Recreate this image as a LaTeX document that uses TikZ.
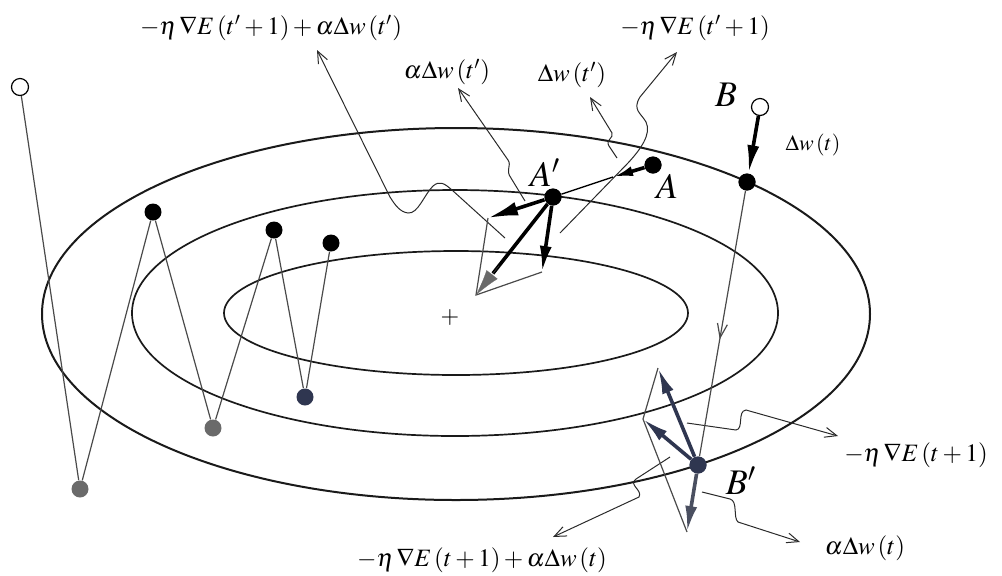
\documentclass[tikz,border=0pt]{standalone}
\usepackage{mathptmx}
\usetikzlibrary{arrows.meta,calc,decorations.markings}
\definecolor{ink}{HTML}{1A1A1A}
\definecolor{zig}{HTML}{4A4A4A}
\definecolor{greydot}{HTML}{6A6A6A}
\definecolor{navy}{HTML}{2F3650}
\definecolor{navylight}{HTML}{4A4F60}
\definecolor{ptrc}{HTML}{2A2A2A}
\begin{document}
\begin{tikzpicture}[x=0.5pt,y=-0.5pt,
  ell/.style={draw=ink,line width=0.85pt},
  zz/.style={draw=zig,line width=0.6pt},
  bdot/.style={circle,fill=black,minimum size=8.5pt,inner sep=0pt},
  gdot/.style={circle,fill=greydot,minimum size=8.5pt,inner sep=0pt},
  ddot/.style={circle,fill=navy,minimum size=8.5pt,inner sep=0pt},
  odot/.style={circle,draw=black,fill=white,line width=0.6pt,minimum size=8.5pt,inner sep=0pt},
  pointer/.style={draw=ptrc,line width=0.5pt,-{Straight Barb[length=6pt,width=5pt]}},
  fat/.style={line width=1.8pt,-{Latex[length=13pt,width=6pt]}},
  thinpar/.style={draw=zig,line width=0.6pt},
  lab/.style={font=\fontsize{12.5}{14}\selectfont,inner sep=0pt},
  smalllab/.style={font=\fontsize{11}{13}\selectfont,inner sep=0pt},
  biglab/.style={font=\fontsize{18}{20}\selectfont,inner sep=0pt}]
\useasboundingbox (0,0) rectangle (1002,575);
% contours
\draw[ell,line width=1pt] (456,314) ellipse [x radius=414, y radius=186];
\draw[ell] (455,313) ellipse [x radius=323, y radius=123];
\draw[ell] (456,313) ellipse [x radius=232, y radius=62];
\node[font=\fontsize{12}{12}\selectfont,inner sep=0pt] (ctr) at (450,317) {$+$};
% zigzag path
\node[odot] (S) at (20,87) {};
\node[gdot] (P1) at (80,489) {};
\node[bdot] (P2) at (153,212) {};
\node[gdot] (P3) at (213,428) {};
\node[bdot] (P4) at (274,230) {};
\node[ddot] (P5) at (305,397) {};
\node[bdot] (P6) at (331,243) {};
\draw[zz] (S) -- (P1) -- (P2) -- (P3) -- (P4) -- (P5) -- (P6);
% A region points
\node[bdot] (Ap) at (553,197) {};
\node[bdot] (A) at (653,165) {};
\coordinate (Aa) at (613,177);
\coordinate (m1) at (488,218);
\coordinate (g1) at (542,272);
\coordinate (s1) at (476,295);
% B region points
\node[odot] (B) at (760,107) {};
\node[bdot] (J) at (747,182) {};
\node[ddot] (Bp) at (698,465) {};
\coordinate (u1) at (658,368);
\coordinate (l1) at (643,419);
\coordinate (d1) at (687,532);
% labels
\node[lab] (L1) at (271,28) {$-\eta\,\nabla E\,(t'+1)+\alpha\Delta w\,(t')$};
\node[lab] (L2) at (447,72) {$\alpha\Delta w\,(t')$};
\node[lab] (L3) at (572,75) {$\Delta w\,(t')$};
\node[lab] (L4) at (695,28) {$-\eta\,\nabla E\,(t'+1)$};
\node[lab] (L5) at (916,455) {$-\eta\,\nabla E\,(t+1)$};
\node[lab] (L6) at (865,548) {$\alpha\Delta w\,(t)$};
\node[lab] (L7) at (482,560) {$-\eta\,\nabla E\,(t+1)+\alpha\Delta w\,(t)$};
\node[smalllab] (L8) at (813,145) {$\Delta w\,(t)$};
\node[biglab] (LAp) at (545,173) {$A'$};
\node[biglab] (LA) at (667,186) {$A$};
\node[biglab] (LB) at (726,95) {$B$};
\node[biglab] (LBp) at (741,481) {$B'$};
% pointer coordinates
\coordinate (t1) at (317,50);
\coordinate (t2) at (458,88);
\coordinate (t3) at (590,97);
\coordinate (t4) at (677,52);
\coordinate (t5) at (838,436);
\coordinate (t6) at (800,542);
\coordinate (t7) at (553,537);
% pointers
\draw[pointer] (505,238) -- (452,190) .. controls (445,184) and (440,180) .. (433,186)
  .. controls (424,195) and (418,214) .. (408,213) .. controls (400,212) and (395,205) .. (390,197) -- (t1);
\draw[pointer] (525,201) -- (511,178) .. controls (505,170) and (512,166) .. (508,160) -- (t2);
\draw[pointer] (617,158) -- (609,146) .. controls (605,140) and (614,138) .. (612,133) -- (t3);
\draw[pointer] (560,233) -- (628,163) .. controls (640,150) and (652,134) .. (646,122)
  .. controls (641,113) and (632,110) .. (640,97) -- (t4);
\draw[pointer] (687,423) -- (736,430) .. controls (744,429) and (737,411) .. (746,410) -- (t5);
\draw[pointer] (702,492) -- (730,499) .. controls (738,501) and (733,518) .. (738,522) -- (t6);
\draw[pointer] (670,457) -- (636,479) .. controls (628,485) and (643,490) .. (639,497) -- (t7);
% B trajectory
\draw[zz,postaction={decorate},decoration={markings,
  mark=at position 0.56 with {\arrow{Straight Barb[length=7pt,width=5pt]}}}] (J) -- (Bp);
\draw[fat,-{Latex[length=14pt,width=6pt]}] (B) -- (J);
% A parallelogram
\draw[thinpar] (m1) -- (s1) -- (g1);
\draw[fat,-{Latex[length=10pt,width=5pt]}] (A) -- (Aa);
\draw[line width=0.7pt] (Aa) -- (Ap);
\draw[fat,-{Latex[length=15pt,width=7pt]}] (Ap) -- (m1);
\draw[fat] (Ap) -- (g1);
\draw[line width=1.8pt] (Ap) -- ($(Ap)!0.78!(s1)$);
\draw[line width=0.1pt,draw=greydot,-{Latex[length=13pt,width=7pt,color=greydot]}] ($(Ap)!0.7!(s1)$) -- (s1);
% B' parallelogram
\draw[thinpar] (u1) -- (l1) -- (d1);
\draw[fat,navy] (Bp) -- (u1);
\draw[fat,navy] (Bp) -- (l1);
\draw[fat,navylight] (Bp) -- (d1);
% redraw dots on top
\node[bdot] at (Ap) {};
\node[bdot] at (A) {};
\node[bdot] at (J) {};
\node[ddot] at (Bp) {};
\end{tikzpicture}
\end{document}
